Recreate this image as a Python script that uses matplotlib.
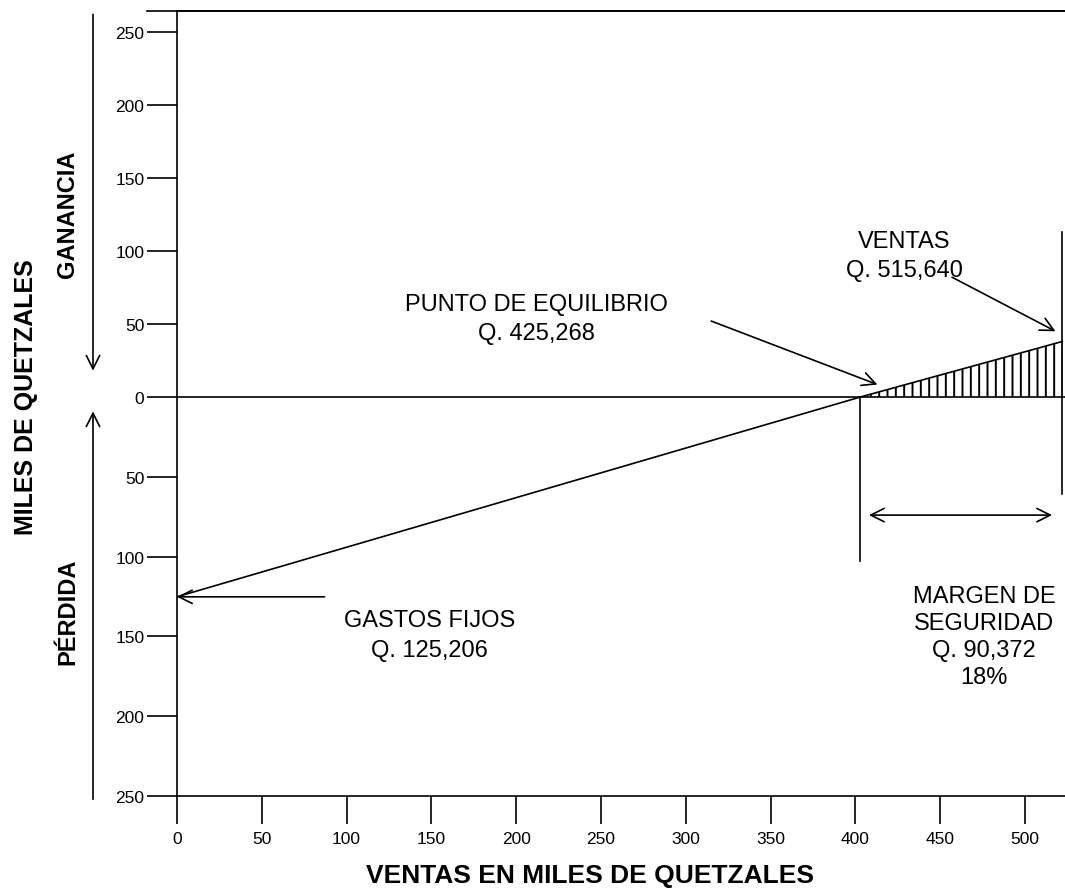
import numpy as np
import matplotlib
matplotlib.use("Agg")
import matplotlib.pyplot as plt

# values (miles de quetzales)
gastos_fijos = 125.2
x_equilibrio = 403.0
x_ventas = 522.0
ganancia_ventas = 38.0
linea_x = [0.0, x_equilibrio, x_ventas]
linea_y = [-gastos_fijos, 0.0, ganancia_ventas]

y_ticks = [250, 200, 150, 100, 50, 0, -50, -100, -150, -200, -250]
y_labels = [str(abs(v)) for v in y_ticks]
x_ticks = list(range(0, 501, 50))
x_labels = [str(v) for v in x_ticks]

plt.rcParams['font.family'] = ['Liberation Sans', 'DejaVu Sans']
plt.rcParams['hatch.linewidth'] = 1.4

# profit side of the axis is drawn a bit compressed in the original
K = 0.915
def fwd(y):
    y = np.asarray(y, dtype=float)
    return np.where(y > 0, y * K, y)

def inv(y):
    y = np.asarray(y, dtype=float)
    return np.where(y > 0, y / K, y)

fig = plt.figure(figsize=(10.65, 8.95), dpi=100)
ax = fig.add_axes([177 / 1065, 98 / 895, 888 / 1065, 785 / 895])
ax.set_yscale('function', functions=(fwd, inv))
ax.set_xlim(0, 523.6)
ax.set_ylim(-250, 264.3)

lw = 1.2
ax.spines['right'].set_visible(False)
for s in ['left', 'bottom', 'top']:
    ax.spines[s].set_linewidth(lw)
# top frame line runs a little past the y axis
ax.plot([-0.034, 1.0], [1.0, 1.0], transform=ax.transAxes, color='black',
        lw=lw, clip_on=False)

ax.set_yticks(y_ticks)
ax.set_yticklabels(y_labels)
ax.set_xticks(x_ticks)
ax.set_xticklabels(x_labels)
ax.tick_params(axis='y', direction='out', length=21.5, width=lw, pad=2, labelsize=12.5)
ax.tick_params(axis='x', direction='out', length=20, width=lw, pad=5, labelsize=12.5)
ax.minorticks_off()

# zero line and the profit/loss line
ax.axhline(0, color='black', lw=lw)
ax.plot(linea_x, linea_y, color='black', lw=lw)

# shaded margin between break-even and sales
xs = np.array(linea_x[1:])
ys = np.array(linea_y[1:])
ax.fill_between(xs, 0, ys, facecolor='none', edgecolor='black', hatch='||', lw=0)

# vertical markers
ax.plot([x_equilibrio, x_equilibrio], [0, -103], color='black', lw=lw)
ax.plot([x_ventas, x_ventas], [113, -61], color='black', lw=lw, clip_on=False)

arrow = dict(arrowstyle='->', color='black', lw=lw, mutation_scale=24,
             shrinkA=0, shrinkB=0)
ax.annotate('', xy=(516, -74), xytext=(408, -74),
            arrowprops=dict(arrowstyle='<->', color='black', lw=lw,
                            mutation_scale=24, shrinkA=0, shrinkB=0))
ax.annotate('', xy=(0, -gastos_fijos), xytext=(87, -gastos_fijos), arrowprops=arrow,
            annotation_clip=False)
ax.annotate('', xy=(413, 8.5), xytext=(315, 52), arrowprops=arrow)
ax.annotate('', xy=(518, 45), xytext=(457, 82), arrowprops=arrow)

fs = 17
ax.text(149, -149, 'GASTOS FIJOS\nQ. 125,206', ha='center', va='center',
        fontsize=fs, linespacing=1.5)
ax.text(212, 54, 'PUNTO DE EQUILIBRIO\nQ. 425,268', ha='center', va='center',
        fontsize=fs, linespacing=1.4)
ax.text(429, 97, 'VENTAS\nQ. 515,640', ha='center', va='center',
        fontsize=fs, linespacing=1.4)
ax.text(476, -150, 'MARGEN DE\nSEGURIDAD\nQ. 90,372\n18%', ha='center', va='center',
        fontsize=fs, linespacing=1.3)

# ganancia / perdida arrows on the left
yt = ax.get_yaxis_transform()
ax.annotate('', xy=(-0.0946, 18), xytext=(-0.0946, 262), xycoords=yt, textcoords=yt,
            arrowprops=arrow, annotation_clip=False)
ax.annotate('', xy=(-0.0946, -9), xytext=(-0.0946, -252), xycoords=yt, textcoords=yt,
            arrowprops=arrow, annotation_clip=False)
ax.text(-0.123, 126, 'GANANCIA', transform=yt, rotation=90, ha='center', va='center',
        fontsize=17, fontweight='bold')
ax.text(-0.123, -134, 'PÉRDIDA', transform=yt, rotation=90, ha='center', va='center',
        fontsize=17, fontweight='bold')

fig.text(26 / 1065, 1 - 397 / 895, 'MILES DE QUETZALES', rotation=90, ha='center',
         va='center', fontsize=18, fontweight='bold')
fig.text(590 / 1065, 1 - 876 / 895, 'VENTAS EN MILES DE QUETZALES', ha='center',
         va='center', fontsize=19, fontweight='bold')

fig.savefig('out.png', dpi=100)
